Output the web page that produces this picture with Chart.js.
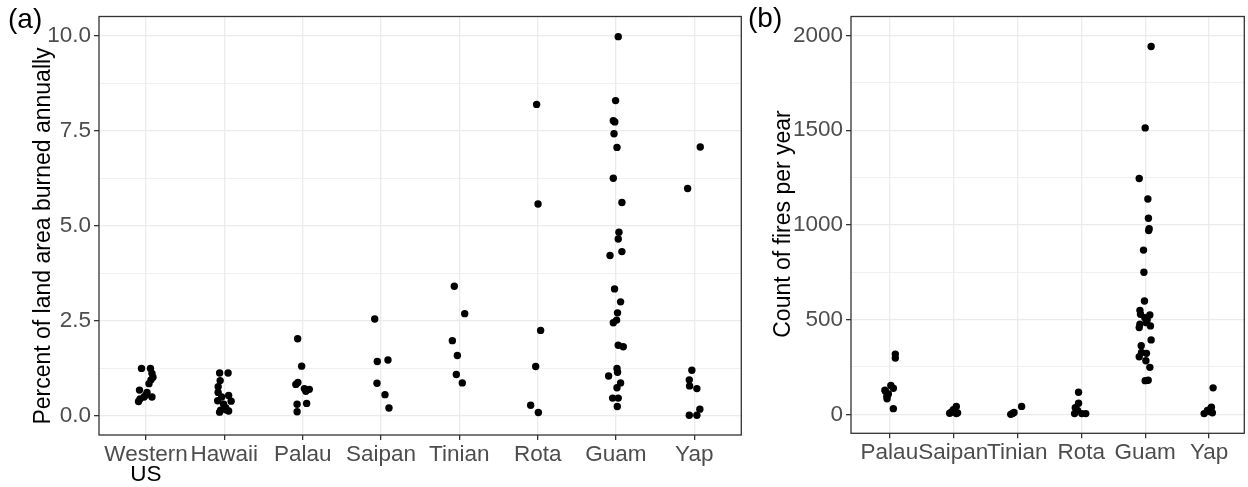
<!DOCTYPE html>
<html>
<head>
<meta charset="utf-8">
<script src="https://cdn.jsdelivr.net/npm/chart.js@4/dist/chart.umd.min.js"></script>
<style>
  html, body { margin: 0; padding: 0; background: #ffffff; }
  #wrap { position: relative; width: 1248px; height: 487px; overflow: hidden; background: #fff; }
  #ca { position: absolute; left: 0; top: 0; }
  #cb { position: absolute; left: 745px; top: 0; }
</style>
</head>
<body>
<div id="wrap">
  <canvas id="ca" width="745" height="487"></canvas>
  <canvas id="cb" width="503" height="487"></canvas>
</div>
<script>
// ---------- Panel (a): percent of land area burned annually ----------
const xLabelsA = [['Western', 'US'], 'Hawaii', 'Palau', 'Saipan', 'Tinian', 'Rota', 'Guam', 'Yap'];
const yTicksA = [0, 2.5, 5, 7.5, 10];

const aWesternUS    = [1.25, 1.25, 1.12, 1.02, 0.95, 0.85, 0.68, 0.62, 0.50, 0.50, 0.45, 0.38, 0.55];
const aWesternUSJit = [-0.057, 0.057, 0.076, 0.089, 0.064, 0.038, -0.083, 0.013, 0.076, -0.025, -0.076, -0.095, 0.0];
const aHawaii       = [1.13, 1.13, 0.93, 0.77, 0.62, 0.50, 0.54, 0.40, 0.39, 0.31, 0.22, 0.10, 0.13, 0.16, 0.15];
const aHawaiiJit    = [-0.060, 0.048, -0.053, -0.079, -0.079, -0.034, 0.055, -0.085, 0.087, -0.009, 0.017, -0.060, 0.055, 0.029, -0.047];
const aPalau        = [2.03, 1.31, 0.83, 0.88, 0.72, 0.70, 0.65, 0.31, 0.33, 0.11];
const aPalauJit     = [-0.064, -0.013, -0.087, -0.061, 0.022, 0.085, 0.041, -0.071, 0.051, -0.071];
const aSaipan       = [2.55, 1.43, 1.47, 0.86, 0.56, 0.21];
const aSaipanJit    = [-0.080, -0.047, 0.089, -0.051, 0.051, 0.102];
const aTinian       = [3.41, 2.69, 1.98, 1.59, 1.09, 0.87];
const aTinianJit    = [-0.064, 0.069, -0.089, -0.025, -0.038, 0.038];
const aRota         = [8.19, 5.57, 2.25, 1.30, 0.28, 0.09];
const aRotaJit      = [-0.013, 0.005, 0.038, -0.025, -0.089, 0.009];
const aGuam         = [9.97, 8.29, 7.76, 7.73, 7.42, 7.06, 6.25, 5.61, 4.83, 4.65, 4.32, 4.22, 3.34, 3.00, 2.71, 2.52, 2.45, 1.86, 1.82, 1.25, 1.15, 1.05, 0.87, 0.74, 0.47, 0.47, 0.25];
const aGuamJit      = [0.029, -0.005, -0.034, -0.015, -0.025, 0.013, -0.034, 0.076, 0.038, 0.029, 0.076, -0.076, -0.018, 0.059, 0.020, 0.008, -0.034, 0.029, 0.093, 0.013, 0.020, -0.094, 0.059, 0.013, -0.043, 0.029, 0.017];
const aYap          = [7.07, 5.98, 1.20, 0.95, 0.79, 0.72, 0.18, 0.02, 0.02];
const aYapJit       = [0.076, -0.085, -0.031, -0.064, -0.060, 0.033, 0.071, -0.064, 0.033];

// ---------- Panel (b): count of fires per year ----------
const xLabelsB = ['Palau', 'Saipan', 'Tinian', 'Rota', 'Guam', 'Yap'];
const yTicksB = [0, 500, 1000, 1500, 2000];

const bPalau     = [318, 297, 152, 138, 122, 108, 95, 82, 30, 128];
const bPalauJit  = [0.093, 0.093, 0.023, 0.062, -0.062, -0.016, -0.039, -0.036, 0.062, -0.070];
const bSaipan    = [42, 25, 4, 12, 8, 6];
const bSaipanJit = [0.047, 0.0, 0.047, -0.031, 0.067, -0.057];
const bTinian    = [0, 10, 42, 5];
const bTinianJit = [-0.102, -0.051, 0.068, -0.074];
const bRota      = [117, 59, 35, 4, 4, 4, 20];
const bRotaJit   = [-0.042, -0.042, -0.093, -0.104, 0.009, 0.071, -0.057];
const bGuam      = [1942, 1512, 1245, 1137, 1035, 980, 970, 867, 750, 598, 549, 528, 525, 510, 484, 476, 458, 467, 500, 393, 362, 327, 322, 304, 283, 248, 178, 180];
const bGuamJit   = [0.093, 0.0, -0.093, 0.042, 0.051, 0.062, 0.054, -0.026, -0.020, -0.011, -0.082, -0.073, 0.073, -0.005, 0.020, -0.082, -0.093, 0.082, 0.031, 0.093, -0.062, -0.057, 0.020, -0.093, 0.011, 0.073, 0.0, 0.047];
const bYap       = [140, 4, 30, 38, 15, 8, 20];
const bYapJit    = [0.062, -0.078, 0.025, 0.036, 0.005, 0.051, -0.026];

const seriesA = [
  [aWesternUS, aWesternUSJit], [aHawaii, aHawaiiJit], [aPalau, aPalauJit], [aSaipan, aSaipanJit],
  [aTinian, aTinianJit], [aRota, aRotaJit], [aGuam, aGuamJit], [aYap, aYapJit]
];
const seriesB = [
  [bPalau, bPalauJit], [bSaipan, bSaipanJit], [bTinian, bTinianJit],
  [bRota, bRotaJit], [bGuam, bGuamJit], [bYap, bYapJit]
];

const FONT = "'Liberation Sans', Arial, Helvetica, sans-serif";
const TICK_COLOR = '#4d4d4d';
const GRID = '#ebebeb';
const FRAME = '#333333';
const TICK_SIZE = 22.5;

function toDatasets(series) {
  return series.map((s, i) => ({
    data: s[0].map((v, k) => ({ x: i + s[1][k], y: v })),
    backgroundColor: '#000000',
    borderWidth: 0,
    pointRadius: 3.7,
    pointHoverRadius: 3.7
  }));
}

function withMinor(major) {
  const t = [];
  major.forEach((v, i) => {
    t.push({ value: v, major: true });
    if (i < major.length - 1) t.push({ value: (v + major[i + 1]) / 2, major: false });
  });
  return t;
}

const framePlugin = {
  id: 'frame',
  afterDraw(chart, args, opts) {
    const { ctx, chartArea: a } = chart;
    ctx.save();
    ctx.strokeStyle = FRAME;
    ctx.lineWidth = 1.3;
    ctx.strokeRect(a.left, a.top, a.right - a.left, a.bottom - a.top);
    // y axis title
    ctx.fillStyle = '#000000';
    ctx.font = '23px ' + FONT;
    ctx.translate(opts.titleX, opts.titleY);
    ctx.rotate(-Math.PI / 2);
    ctx.textAlign = 'center';
    ctx.textBaseline = 'alphabetic';
    ctx.fillText(opts.title, 0, 0);
    ctx.restore();
    // panel tag
    ctx.save();
    ctx.fillStyle = '#000000';
    ctx.font = '28px ' + FONT;
    ctx.textAlign = 'left';
    ctx.textBaseline = 'alphabetic';
    ctx.fillText(opts.tag, opts.tagX, opts.tagY);
    // second lines of x labels
    if (opts.labels) {
      ctx.font = TICK_SIZE + 'px ' + FONT;
      ctx.textAlign = 'center';
      opts.labels.forEach((l, i) => {
        if (Array.isArray(l) && l[1]) {
          ctx.fillText(l[1], chart.scales.x.getPixelForValue(i), opts.line2Y);
        }
      });
    }
    ctx.restore();
  }
};

function makeChart(canvas, cfg) {
  return new Chart(canvas, {
    type: 'scatter',
    data: { datasets: toDatasets(cfg.series) },
    options: {
      responsive: false,
      animation: false,
      devicePixelRatio: 1,
      events: [],
      layout: { padding: cfg.padding },
      plugins: {
        legend: { display: false },
        tooltip: { enabled: false },
        frame: cfg.frame
      },
      scales: {
        x: {
          type: 'linear',
          min: cfg.xMin, max: cfg.xMax,
          afterBuildTicks: s => { s.ticks = cfg.labels.map((l, i) => ({ value: i })); },
          afterFit: s => { s.height = cfg.xAxisHeight; },
          ticks: {
            autoSkip: false, maxRotation: 0, minRotation: 0,
            padding: 1,
            color: TICK_COLOR,
            font: { family: FONT, size: TICK_SIZE },
            callback: (v, i) => { const l = cfg.labels[i]; return Array.isArray(l) ? l[0] : l; }
          },
          grid: { color: GRID, lineWidth: 1.3, tickLength: 5, tickColor: FRAME, drawTicks: true },
          border: { display: false }
        },
        y: {
          type: 'linear',
          min: cfg.yMin, max: cfg.yMax,
          afterBuildTicks: s => { s.ticks = withMinor(cfg.yTicks); },
          afterFit: s => { s.width = cfg.yAxisWidth; },
          ticks: {
            autoSkip: false,
            padding: 3,
            color: TICK_COLOR,
            font: { family: FONT, size: TICK_SIZE },
            callback: (v) => cfg.yTicks.includes(v) ? cfg.fmt(v) : ''
          },
          grid: {
            color: GRID,
            lineWidth: c => (c.tick && cfg.yTicks.includes(c.tick.value)) ? 1.3 : 0.7,
            tickLength: 5,
            tickColor: c => (c.tick && cfg.yTicks.includes(c.tick.value)) ? FRAME : 'rgba(0,0,0,0)'
          },
          border: { display: false }
        }
      }
    },
    plugins: [framePlugin]
  });
}

makeChart(document.getElementById('ca'), {
  series: seriesA,
  labels: xLabelsA,
  yTicks: yTicksA,
  fmt: v => v.toFixed(1),
  xMin: -0.6, xMax: 7.6,
  yMin: -0.5, yMax: 10.5,
  padding: { top: 16, right: 2, left: 0, bottom: 0 },
  xAxisHeight: 52,
  yAxisWidth: 99,
  frame: { title: 'Percent of land area burned annually', titleX: 50, titleY: 236, tag: '(a)', tagX: 8, tagY: 28, labels: xLabelsA, line2Y: 481 }
});

makeChart(document.getElementById('cb'), {
  series: seriesB,
  labels: xLabelsB,
  yTicks: yTicksB,
  fmt: v => String(v),
  xMin: -0.6, xMax: 5.55,
  yMin: -100, yMax: 2100,
  padding: { top: 14, right: 0.5, left: 0, bottom: 0 },
  xAxisHeight: 53.7,
  yAxisWidth: 106,
  frame: { title: 'Count of fires per year', titleX: 45, titleY: 224, tag: '(b)', tagX: 3, tagY: 27, labels: null, line2Y: 0 }
});
</script>
</body>
</html>
